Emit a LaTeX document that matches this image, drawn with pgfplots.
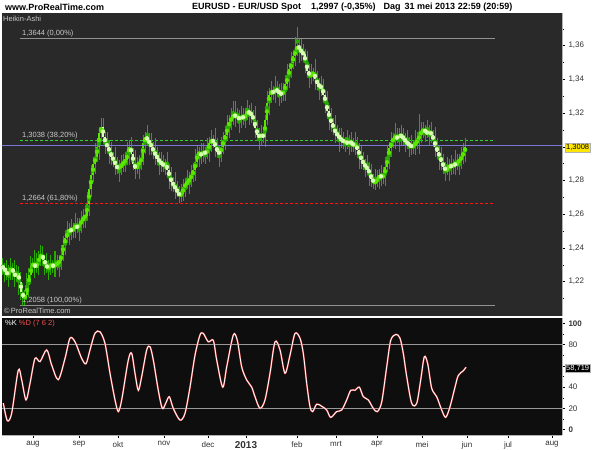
\documentclass[border=0pt]{standalone}
\usepackage{fontspec}
\setmainfont{Liberation Sans}
\usepackage{pgfplots}
\pgfplotsset{compat=1.18}
\usepackage{pgfplotstable}

\definecolor{wick}{RGB}{40,170,0}
\definecolor{upbody}{RGB}{90,230,0}
\definecolor{dnbody}{RGB}{215,255,180}
\definecolor{fibgray}{RGB}{146,146,146}
\definecolor{fibgreen}{RGB}{46,216,46}
\definecolor{fibred}{RGB}{255,20,20}
\definecolor{lastline}{RGB}{120,120,210}
\definecolor{lbl}{RGB}{200,200,200}
\definecolor{topbg}{RGB}{41,41,41}
\definecolor{stbg}{RGB}{14,14,14}
\definecolor{kred}{RGB}{240,80,80}

% Heikin-Ashi bars, EUR/USD daily (bar index, 0 = 1 aug 2012)
\pgfplotstableread{
i o c h l
-15 1.2290 1.2280 1.2340 1.2240
-14 1.2280 1.2260 1.2310 1.2200
-13 1.2260 1.2240 1.2330 1.2210
-12 1.2240 1.2260 1.2300 1.2170
-11 1.2260 1.2280 1.2340 1.2210
-10 1.2280 1.2250 1.2310 1.2210
-9 1.2250 1.2230 1.2330 1.2170
-8 1.2230 1.2250 1.2300 1.2200
-7 1.2250 1.2200 1.2290 1.2120
-6 1.2200 1.2140 1.2260 1.2090
-5 1.2140 1.2100 1.2190 1.2058
-4 1.2100 1.2120 1.2150 1.2060
-3 1.2120 1.2180 1.2250 1.2090
-2 1.2180 1.2240 1.2280 1.2110
-1 1.2240 1.2290 1.2350 1.2190
0 1.2290 1.2310 1.2340 1.2250
1 1.2310 1.2280 1.2390 1.2220
2 1.2280 1.2320 1.2370 1.2250
3 1.2320 1.2340 1.2380 1.2240
4 1.2340 1.2360 1.2420 1.2290
5 1.2360 1.2330 1.2410 1.2290
6 1.2330 1.2300 1.2360 1.2240
7 1.2300 1.2280 1.2370 1.2250
8 1.2280 1.2290 1.2330 1.2210
9 1.2290 1.2300 1.2360 1.2240
10 1.2300 1.2290 1.2330 1.2250
11 1.2290 1.2300 1.2380 1.2230
12 1.2300 1.2310 1.2360 1.2270
13 1.2310 1.2320 1.2360 1.2230
14 1.2320 1.2360 1.2420 1.2270
15 1.2360 1.2420 1.2470 1.2320
16 1.2420 1.2460 1.2490 1.2360
17 1.2460 1.2490 1.2560 1.2430
18 1.2490 1.2510 1.2550 1.2420
19 1.2510 1.2500 1.2570 1.2450
20 1.2500 1.2520 1.2550 1.2460
21 1.2520 1.2530 1.2610 1.2460
22 1.2530 1.2520 1.2580 1.2490
23 1.2520 1.2540 1.2580 1.2440
24 1.2540 1.2560 1.2620 1.2490
25 1.2560 1.2580 1.2630 1.2520
26 1.2580 1.2590 1.2620 1.2520
27 1.2590 1.2660 1.2730 1.2560
28 1.2660 1.2750 1.2790 1.2590
29 1.2750 1.2830 1.2890 1.2700
30 1.2830 1.2900 1.2930 1.2790
31 1.2900 1.2940 1.3020 1.2840
32 1.2940 1.3000 1.3050 1.2910
33 1.3000 1.3080 1.3120 1.2920
34 1.3080 1.3120 1.3170 1.3030
35 1.3120 1.3060 1.3170 1.3020
36 1.3060 1.3020 1.3090 1.2960
37 1.3020 1.3000 1.3090 1.2970
38 1.3000 1.2970 1.3040 1.2900
39 1.2970 1.2940 1.3030 1.2890
40 1.2940 1.2920 1.2970 1.2880
41 1.2920 1.2890 1.3000 1.2830
42 1.2890 1.2870 1.2940 1.2840
43 1.2870 1.2880 1.2920 1.2790
44 1.2880 1.2890 1.2950 1.2830
45 1.2890 1.2910 1.2960 1.2850
46 1.2910 1.2920 1.2950 1.2850
47 1.2920 1.2960 1.3030 1.2890
48 1.2960 1.3000 1.3040 1.2890
49 1.3000 1.2960 1.3060 1.2910
50 1.2960 1.2900 1.2990 1.2860
51 1.2900 1.2870 1.2980 1.2810
52 1.2870 1.2890 1.2940 1.2840
53 1.2890 1.2910 1.2950 1.2810
54 1.2910 1.2930 1.2990 1.2860
55 1.2930 1.3020 1.3070 1.2890
56 1.3020 1.3060 1.3090 1.2960
57 1.3060 1.3040 1.3130 1.3010
58 1.3040 1.3020 1.3080 1.2950
59 1.3020 1.3000 1.3080 1.2950
60 1.3000 1.2970 1.3030 1.2930
61 1.2970 1.2950 1.3050 1.2890
62 1.2950 1.2930 1.3000 1.2900
63 1.2930 1.2910 1.2970 1.2830
64 1.2910 1.2900 1.2970 1.2850
65 1.2900 1.2890 1.2950 1.2850
66 1.2890 1.2900 1.2930 1.2830
67 1.2900 1.2860 1.2970 1.2830
68 1.2860 1.2820 1.2900 1.2750
69 1.2820 1.2790 1.2880 1.2740
70 1.2790 1.2770 1.2820 1.2730
71 1.2770 1.2750 1.2850 1.2690
72 1.2750 1.2730 1.2800 1.2700
73 1.2730 1.2710 1.2770 1.2665
74 1.2710 1.2720 1.2780 1.2670
75 1.2720 1.2760 1.2810 1.2680
76 1.2760 1.2780 1.2810 1.2700
77 1.2780 1.2790 1.2860 1.2750
78 1.2790 1.2810 1.2850 1.2720
79 1.2810 1.2830 1.2890 1.2760
80 1.2830 1.2860 1.2890 1.2790
81 1.2860 1.2910 1.2990 1.2800
82 1.2910 1.2960 1.3010 1.2880
83 1.2960 1.2960 1.3000 1.2880
84 1.2960 1.2950 1.3020 1.2900
85 1.2950 1.2970 1.3020 1.2910
86 1.2970 1.2960 1.3000 1.2900
87 1.2960 1.2980 1.3050 1.2930
88 1.2980 1.3020 1.3060 1.2910
89 1.3020 1.3040 1.3100 1.2970
90 1.3040 1.3030 1.3070 1.2990
91 1.3030 1.3000 1.3110 1.2940
92 1.3000 1.2970 1.3050 1.2940
93 1.2970 1.2960 1.3010 1.2880
94 1.2960 1.3000 1.3060 1.2910
95 1.3000 1.3040 1.3090 1.2960
96 1.3040 1.3070 1.3100 1.2980
97 1.3070 1.3120 1.3190 1.3040
98 1.3120 1.3150 1.3190 1.3050
99 1.3150 1.3170 1.3230 1.3100
100 1.3170 1.3190 1.3270 1.3130
101 1.3190 1.3180 1.3270 1.3120
102 1.3180 1.3180 1.3230 1.3150
103 1.3180 1.3160 1.3220 1.3080
104 1.3160 1.3180 1.3240 1.3110
105 1.3180 1.3170 1.3230 1.3130
106 1.3170 1.3190 1.3220 1.3110
107 1.3190 1.3210 1.3280 1.3160
108 1.3210 1.3200 1.3250 1.3130
109 1.3200 1.3190 1.3260 1.3140
110 1.3190 1.3160 1.3220 1.3120
111 1.3160 1.3110 1.3240 1.3050
112 1.3110 1.3070 1.3160 1.3040
113 1.3070 1.3060 1.3110 1.2980
114 1.3060 1.3070 1.3130 1.3010
115 1.3070 1.3060 1.3120 1.3020
116 1.3060 1.3160 1.3190 1.3000
117 1.3160 1.3260 1.3330 1.3130
118 1.3260 1.3310 1.3350 1.3190
119 1.3310 1.3330 1.3390 1.3260
120 1.3330 1.3320 1.3360 1.3280
121 1.3320 1.3340 1.3420 1.3260
122 1.3340 1.3330 1.3390 1.3300
123 1.3330 1.3320 1.3370 1.3240
124 1.3320 1.3310 1.3380 1.3260
125 1.3310 1.3330 1.3380 1.3270
126 1.3330 1.3370 1.3400 1.3270
127 1.3370 1.3420 1.3490 1.3340
128 1.3420 1.3460 1.3500 1.3350
129 1.3460 1.3500 1.3560 1.3410
130 1.3500 1.3540 1.3570 1.3460
131 1.3540 1.3570 1.3650 1.3480
132 1.3570 1.3600 1.3711 1.3540
133 1.3600 1.3580 1.3640 1.3500
134 1.3580 1.3560 1.3640 1.3510
135 1.3560 1.3550 1.3610 1.3510
136 1.3550 1.3500 1.3580 1.3440
137 1.3500 1.3450 1.3570 1.3420
138 1.3450 1.3420 1.3490 1.3350
139 1.3420 1.3430 1.3490 1.3370
140 1.3430 1.3440 1.3470 1.3390
141 1.3440 1.3400 1.3520 1.3340
142 1.3400 1.3370 1.3450 1.3340
143 1.3370 1.3360 1.3410 1.3280
144 1.3360 1.3350 1.3420 1.3300
145 1.3350 1.3310 1.3400 1.3270
146 1.3310 1.3260 1.3340 1.3200
147 1.3260 1.3210 1.3330 1.3180
148 1.3210 1.3170 1.3250 1.3100
149 1.3170 1.3140 1.3230 1.3090
150 1.3140 1.3110 1.3170 1.3070
151 1.3110 1.3080 1.3190 1.3020
152 1.3080 1.3070 1.3130 1.3040
153 1.3070 1.3050 1.3110 1.2970
154 1.3050 1.3040 1.3110 1.2990
155 1.3040 1.3030 1.3090 1.2990
156 1.3030 1.3030 1.3060 1.2970
157 1.3030 1.3020 1.3100 1.2990
158 1.3020 1.3030 1.3070 1.2950
159 1.3030 1.3020 1.3090 1.2970
160 1.3020 1.3010 1.3050 1.2970
161 1.3010 1.3010 1.3090 1.2950
162 1.3010 1.2980 1.3060 1.2950
163 1.2980 1.2950 1.3020 1.2870
164 1.2950 1.2920 1.3010 1.2870
165 1.2920 1.2900 1.2970 1.2860
166 1.2900 1.2880 1.2930 1.2820
167 1.2880 1.2870 1.2950 1.2840
168 1.2870 1.2840 1.2910 1.2770
169 1.2840 1.2810 1.2900 1.2760
170 1.2810 1.2790 1.2840 1.2750
171 1.2790 1.2790 1.2870 1.2745
172 1.2790 1.2810 1.2860 1.2760
173 1.2810 1.2830 1.2870 1.2750
174 1.2830 1.2820 1.2890 1.2770
175 1.2820 1.2830 1.2880 1.2780
176 1.2830 1.2880 1.2910 1.2770
177 1.2880 1.2940 1.3010 1.2850
178 1.2940 1.2990 1.3030 1.2870
179 1.2990 1.3030 1.3090 1.2940
180 1.3030 1.3050 1.3080 1.2990
181 1.3050 1.3060 1.3140 1.2990
182 1.3060 1.3050 1.3110 1.3020
183 1.3050 1.3070 1.3110 1.2970
184 1.3070 1.3060 1.3130 1.3010
185 1.3060 1.3050 1.3110 1.3010
186 1.3050 1.3030 1.3080 1.2970
187 1.3030 1.3020 1.3100 1.2990
188 1.3020 1.3010 1.3060 1.2940
189 1.3010 1.3000 1.3070 1.2950
190 1.3000 1.3010 1.3040 1.2960
191 1.3010 1.3020 1.3100 1.2950
192 1.3020 1.3040 1.3090 1.2990
193 1.3040 1.3070 1.3196 1.2960
194 1.3070 1.3090 1.3150 1.3020
195 1.3090 1.3100 1.3150 1.3050
196 1.3100 1.3090 1.3130 1.3030
197 1.3090 1.3080 1.3160 1.3050
198 1.3080 1.3090 1.3130 1.3010
199 1.3090 1.3070 1.3150 1.3020
200 1.3070 1.3040 1.3100 1.3000
201 1.3040 1.3000 1.3120 1.2940
202 1.3000 1.2970 1.3050 1.2940
203 1.2970 1.2940 1.3010 1.2860
204 1.2940 1.2910 1.3000 1.2860
205 1.2910 1.2880 1.2960 1.2840
206 1.2880 1.2860 1.2910 1.2800
207 1.2860 1.2870 1.2940 1.2830
208 1.2870 1.2890 1.2930 1.2800
209 1.2890 1.2880 1.2950 1.2830
210 1.2880 1.2900 1.2930 1.2840
211 1.2900 1.2890 1.2980 1.2830
212 1.2890 1.2910 1.2960 1.2860
213 1.2910 1.2920 1.2960 1.2830
214 1.2920 1.2940 1.3000 1.2870
215 1.2940 1.2970 1.3020 1.2900
216 1.2970 1.2997 1.3050 1.2910
}\ha

% Stochastic %K (7 6 2)
\pgfplotstableread{
i k
-14.85 25
-12.85 8.5
-10.65 15.6
-7.35 56
-5.65 46.7
-3.5 28
-1.5 43.5
1 67
3.5 64
6.85 75
9.35 60.7
12.65 47
16 67
18.5 86
21 82.6
24.35 67
26.5 62
28.5 75
31 90.7
33.5 92
36 81
38.5 53
41 28
42.65 17
44.35 28
47.65 65.5
49.35 71.7
51 53
52.65 37
54.35 50
56.85 75
58.5 78
60.15 65.5
62.65 37
64.65 20
66.35 24.8
68.15 31
70.15 20
73.5 9
76 15.4
78.5 40
81 70
83.5 89
85.15 90.5
87.65 82.6
90.15 84
91.85 65.5
94.85 40
96.85 59
100.15 89
102.15 84
104.35 59
106.85 46.7
109.35 40
111 31
113.5 20
116 28
118.5 53
121 82.6
123.5 75
126 53
128.5 70
131 90.5
133.5 86
135.15 71.7
136.85 43.5
138.5 21.6
139.85 17
141.85 24
144.35 22
146.85 18.5
148.85 11.6
151.85 17
154.35 18.5
156.85 28
158.85 37
161 37
163.15 40
165.15 31
167.65 28
170.15 20
172.15 17
174.35 26
176.85 59
178.85 84
181.5 89.6
183.5 86
185.15 71.7
186.85 50
189.35 24.8
191.85 24.8
193.85 46.7
195.65 68.5
197.35 62
199.35 38.9
201.85 31
204.35 18.5
206.35 11.6
208.5 21.6
211 40
212.65 51
215.15 55.4
216.5 58.7
}\stoch

\begin{document}
\begin{tikzpicture}[x=1pt,y=1pt]
\fill[white] (0,0) rectangle (600,450);
\useasboundingbox (0,0) rectangle (600,450);

% ---- price panel ----
\begin{axis}[
  at={(2pt,134pt)}, anchor=south west,
  scale only axis, width=560pt, height=303pt,
  xmin=-15.5, xmax=264.5, ymin=1.1996, ymax=1.3794,
  axis background/.style={fill=topbg},
  axis x line=none, axis y line*=right,
  axis line style={gray!60, line width=0.6pt},
  xtick=\empty,
  ytick={1.22,1.24,...,1.37},
  yticklabels={{1,22},{1,24},{1,26},{1,28},{},{1,32},{1,34},{1,36}},
  minor ytick={1.21,1.23,...,1.375},
  tick align=outside, major tick length=3pt, minor tick length=2pt,
  tick style={black, line width=0.4pt},
  yticklabel style={font=\fontsize{8}{8}\selectfont, text=black!80},
]
% fibonacci levels
\addplot[color=fibgray, line width=0.9pt] coordinates {(-6.5,1.3644) (231,1.3644)};
\addplot[color=fibgray, line width=0.9pt] coordinates {(-6.5,1.2058) (231,1.2058)};
\addplot[color=fibgreen, line width=1.2pt, dash pattern=on 3pt off 2pt] coordinates {(-6.5,1.3038) (231,1.3038)};
\addplot[color=fibred, line width=1.3pt, dash pattern=on 3pt off 2pt] coordinates {(-6.5,1.2664) (231,1.2664)};
% wicks
\addplot[color=wick, only marks, mark=none,
  error bars/.cd, y dir=both, y explicit, error mark=none,
  error bar style={line width=1pt}]
  table[x=i, y expr={(\thisrow{h}+\thisrow{l})/2}, y error expr={(\thisrow{h}-\thisrow{l})/2}] {\ha};
% rising bodies
\addplot[color=upbody, only marks, mark=none,
  restrict expr to domain={\thisrow{c}-\thisrow{o}}{0:1},
  error bars/.cd, y dir=both, y explicit, error mark=none,
  error bar style={line width=1.7pt}]
  table[x=i, y expr={(\thisrow{o}+\thisrow{c})/2}, y error expr={max(abs(\thisrow{c}-\thisrow{o})/2,0.0005)}] {\ha};
% falling bodies
\addplot[color=dnbody, only marks, mark=none,
  restrict expr to domain={\thisrow{o}-\thisrow{c}}{0.00001:1},
  error bars/.cd, y dir=both, y explicit, error mark=none,
  error bar style={line width=1.7pt}]
  table[x=i, y expr={(\thisrow{o}+\thisrow{c})/2}, y error expr={max(abs(\thisrow{c}-\thisrow{o})/2,0.0005)}] {\ha};
% last price line
\addplot[color=lastline, line width=1.3pt] coordinates {(-15.5,1.3008) (264.5,1.3008)};

\begin{scope}[every node/.style={anchor=south west, inner sep=0pt, text=lbl, font=\fontsize{7.5}{7.5}\selectfont, yshift=1.4pt}]
\node at (axis cs:-5.5,1.3644) {1,3644 (0,00\%)};
\node at (axis cs:-5.5,1.3038) {1,3038 (38,20\%)};
\node at (axis cs:-5.5,1.2664) {1,2664 (61,80\%)};
\node at (axis cs:-5.5,1.2058) {1,2058 (100,00\%)};
\end{scope}
\end{axis}

% ---- stochastic panel ----
\begin{axis}[
  at={(2pt,15pt)}, anchor=south west,
  scale only axis, width=560pt, height=117pt,
  xmin=-15.5, xmax=264.5, ymin=-5, ymax=105,
  axis background/.style={fill=stbg},
  axis x line*=bottom, axis y line*=right,
  axis line style={gray!60, line width=0.6pt},
  xtick={0,23,42.5,65.5,87.5,106.5,132,151.5,172,194.5,217,237.5,259.5},
  xticklabels={aug,sep,okt,nov,dec,{\fontsize{10}{10}\selectfont\bfseries 2013},feb,mrt,apr,mei,jun,jul,aug},
  ytick={0,20,...,100},
  yticklabels={\textbf{0},20,40,{},80,\textbf{100}},
  minor ytick={10,30,...,90},
  tick align=outside, major tick length=3pt, minor tick length=2pt,
  tick style={black, line width=0.4pt},
  yticklabel style={font=\fontsize{8}{8}\selectfont, text=black!80},
  xticklabel style={font=\fontsize{8}{8}\selectfont, text=black!80},
]
\addplot[color=gray!80, line width=0.8pt] coordinates {(-15.5,80) (264.5,80)};
\addplot[color=gray!80, line width=0.8pt] coordinates {(-15.5,20) (264.5,20)};
\addplot[color=kred, line width=1.6pt, smooth] table[x=i, y=k] {\stoch};
\addplot[color=white, line width=0.8pt, smooth] table[x=i, y=k] {\stoch};
\end{axis}

% ---- header and labels ----
\node[anchor=west, inner sep=0pt, font=\fontsize{9}{9}\selectfont\bfseries] at (5,443) {www.ProRealTime.com};
\node[anchor=west, inner sep=0pt, font=\fontsize{9}{9}\selectfont\bfseries] at (192,443)
  {EURUSD - EUR/USD Spot\hspace{10pt}1,2997 (-0,35\%)\hspace{8pt}Dag\hspace{4pt}31 mei 2013 22:59 (20:59)};
\node[anchor=west, inner sep=0pt, text=lbl, font=\fontsize{7.5}{7.5}\selectfont] at (3,431) {Heikin-Ashi};
\node[anchor=west, inner sep=0pt, text=lbl, font=\fontsize{7.5}{7.5}\selectfont] at (4,139) {\textcopyright\,ProRealTime.com};
\node[anchor=west, inner sep=0pt, font=\fontsize{7.5}{7.5}\selectfont] at (5,126)
  {\textcolor{white}{\%K} \textcolor{kred}{\%D (7 6 2)}};
\node[anchor=west, fill=yellow!90!orange, draw=gray!60, inner sep=1pt, font=\fontsize{7.5}{7.5}\selectfont] at (565,302.3) {1,3008};
\node[anchor=west, fill=black, text=white, draw=gray!60, inner sep=1pt, font=\fontsize{7.5}{7.5}\selectfont] at (565,81.7) {58,719};
\end{tikzpicture}
\end{document}
